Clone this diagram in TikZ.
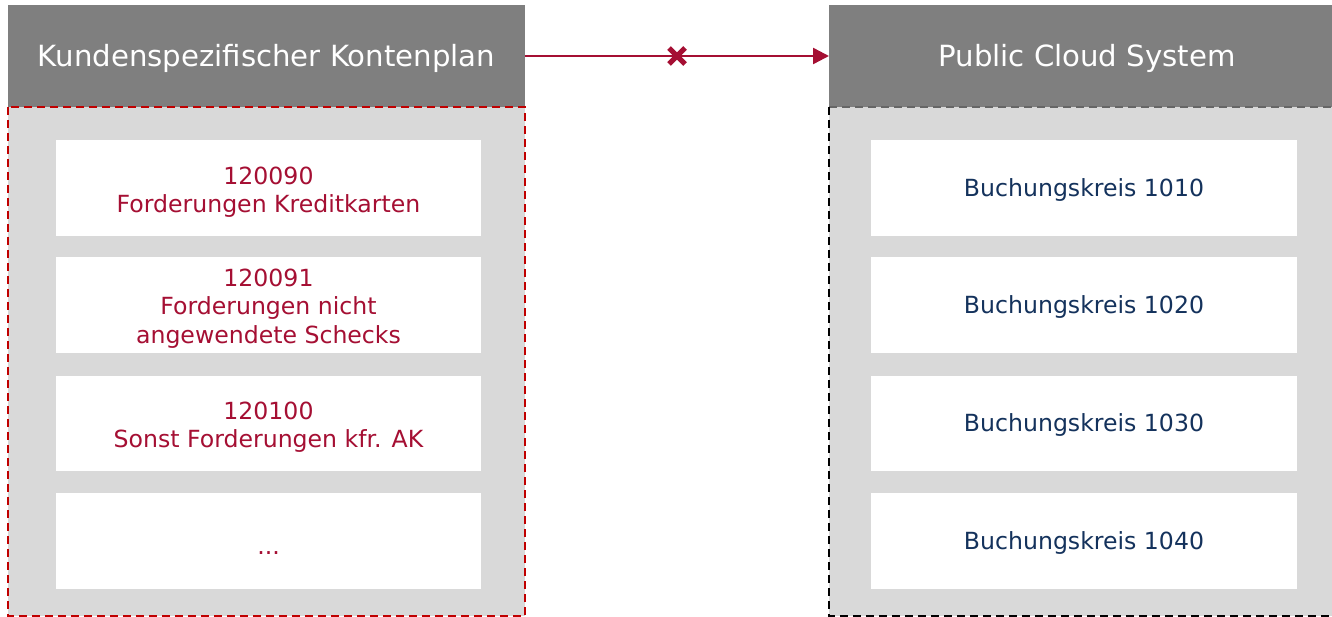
\documentclass[tikz,border=0pt]{standalone}
\usepackage{fontspec}
\setmainfont{DejaVu Sans}
\usetikzlibrary{arrows.meta,shapes.misc}
\definecolor{hdrgray}{HTML}{7F7F7F}
\definecolor{bodygray}{HTML}{D9D9D9}
\definecolor{txtred}{HTML}{A50F33}
\definecolor{dashred}{HTML}{C00000}
\definecolor{txtblue}{HTML}{14325C}
\tikzset{
  hdrtext/.style={text=white, font=\fontsize{29.2}{34}\selectfont, inner sep=0pt},
  wbox/.style={fill=white, draw=none, inner sep=0pt},
  acct/.style={text=txtred, align=center, font=\fontsize{23.6}{28.5}\selectfont, inner sep=0pt},
  bktext/.style={text=txtblue, align=center, font=\fontsize{23.6}{28.5}\selectfont, inner sep=0pt},
  reddash/.style={draw=dashred, line width=2.5pt, dash pattern=on 8pt off 5pt},
  blackdash/.style={draw=black, line width=2.5pt, dash pattern=on 8pt off 5pt},
  flow/.style={draw=txtred, line width=2.4pt, -{Triangle[length=16pt,width=16pt]}},
  xmark/.style={cross out, draw=txtred, line width=5pt, minimum size=11pt, inner sep=0pt}
}
\begin{document}
\begin{tikzpicture}[x=1pt,y=-1pt]
\useasboundingbox (0,0) rectangle (1332,617);
% left panel
\fill[bodygray] (8,107) rectangle (525,616);
\fill[hdrgray] (8,5) rectangle (525,107);
\node[hdrtext] (lh) at (266.5,58) {Kundenspezifischer Kontenplan};
\draw[reddash] (8,107) rectangle (525,616);
% right panel
\fill[bodygray] (829,107) rectangle (1332,616);
\fill[hdrgray] (829,5) rectangle (1332,107);
\node[hdrtext] (rh) at (1087,58) {Public Cloud System};
\draw[draw=hdrgray!80!black, line width=1.5pt, dash pattern=on 8pt off 5pt] (829,107) -- (1332,107);
\draw[blackdash] (829,107) -- (829,616) -- (1332,616);
% left boxes
\node[wbox, minimum width=425pt, minimum height=96pt] (a1) at (268.5,188) {};
\node[wbox, minimum width=425pt, minimum height=96pt] (a2) at (268.5,305) {};
\node[wbox, minimum width=425pt, minimum height=95pt] (a3) at (268.5,423.5) {};
\node[wbox, minimum width=425pt, minimum height=96pt] (a4) at (268.5,541) {};
\node[acct] (a1t) at (268.5,192) {120090\\Forderungen Kreditkarten};
\node[acct] (a2t) at (268.5,308.5) {120091\\Forderungen nicht\\angewendete Schecks};
\node[acct] (a3t) at (268.5,427) {120100\\Sonst Forderungen kfr. AK};
\node[acct, anchor=base] (a4t) at (268.5,554) {...};
% right boxes
\node[wbox, minimum width=426pt, minimum height=96pt] (b1) at (1084,188) {};
\node[wbox, minimum width=426pt, minimum height=96pt] (b2) at (1084,305) {};
\node[wbox, minimum width=426pt, minimum height=95pt] (b3) at (1084,423.5) {};
\node[wbox, minimum width=426pt, minimum height=96pt] (b4) at (1084,541) {};
\node[bktext] (b1t) at (1084,189.5) {Buchungskreis 1010};
\node[bktext] (b2t) at (1084,306.5) {Buchungskreis 1020};
\node[bktext] (b3t) at (1084,425) {Buchungskreis 1030};
\node[bktext] (b4t) at (1084,542.5) {Buchungskreis 1040};
% connector
\coordinate (ls) at (525,56);
\coordinate (re) at (829,56);
\draw[flow] (ls) -- (re);
\node[xmark] (x) at (677,56) {};
\end{tikzpicture}
\end{document}
